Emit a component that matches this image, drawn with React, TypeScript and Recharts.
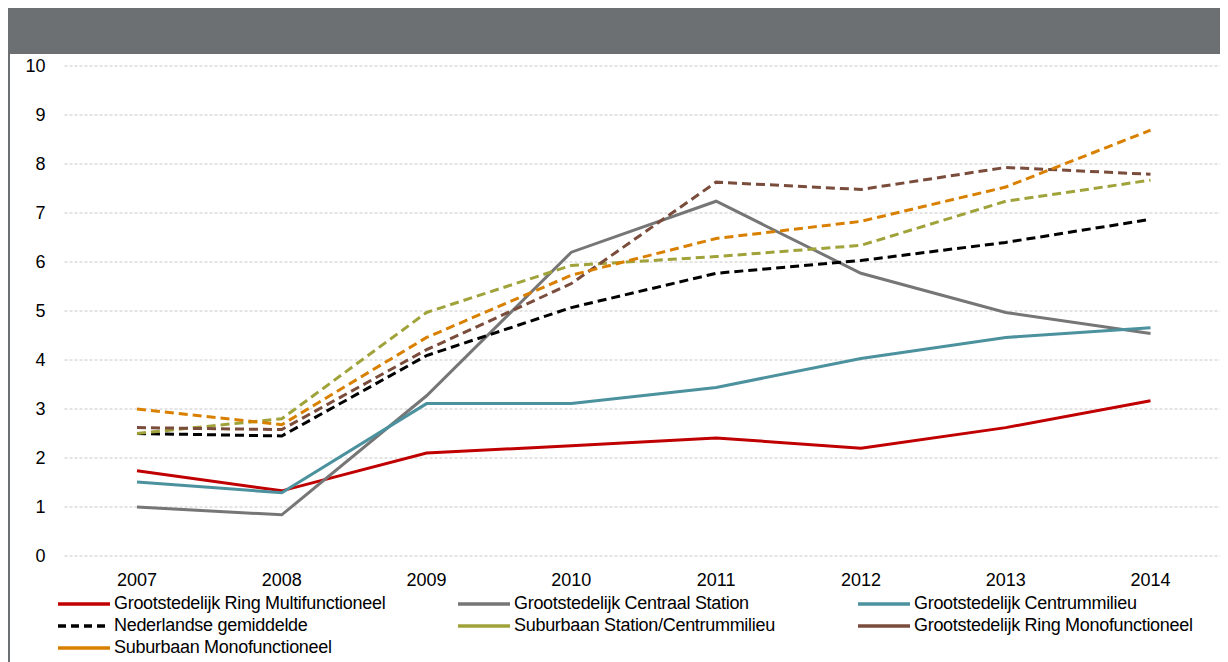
import { CartesianGrid, Legend, Line, LineChart, XAxis, YAxis } from "recharts";

const years = ["2007", "2008", "2009", "2010", "2011", "2012", "2013", "2014"];

const ringMulti = [1.74, 1.33, 2.1, 2.25, 2.41, 2.2, 2.62, 3.17];
const centraalStation = [1.0, 0.84, 3.27, 6.2, 7.24, 5.77, 4.97, 4.54];
const centrummilieu = [1.51, 1.29, 3.11, 3.11, 3.44, 4.03, 4.46, 4.66];
const nlGemiddelde = [2.5, 2.45, 4.09, 5.07, 5.77, 6.03, 6.4, 6.87];
const subStation = [2.5, 2.8, 4.97, 5.93, 6.11, 6.34, 7.24, 7.67];
const ringMono = [2.62, 2.58, 4.21, 5.56, 7.63, 7.48, 7.93, 7.79];
const subMono = [3.0, 2.68, 4.46, 5.73, 6.48, 6.83, 7.53, 8.69];

const yTicks = [0, 1, 2, 3, 4, 5, 6, 7, 8, 9, 10];

const series = [
  { key: "ringMulti", name: "Grootstedelijk Ring Multifunctioneel", color: "#c00000", dash: undefined, values: ringMulti },
  { key: "centraalStation", name: "Grootstedelijk Centraal Station", color: "#767676", dash: undefined, values: centraalStation },
  { key: "centrummilieu", name: "Grootstedelijk Centrummilieu", color: "#4b919e", dash: undefined, values: centrummilieu },
  { key: "nlGemiddelde", name: "Nederlandse gemiddelde", color: "#000000", dash: "9 5", values: nlGemiddelde },
  { key: "subStation", name: "Suburbaan Station/Centrummilieu", color: "#a0a23a", dash: "9 5", values: subStation },
  { key: "ringMono", name: "Grootstedelijk Ring Monofunctioneel", color: "#7a4c3b", dash: "9 5", values: ringMono },
  { key: "subMono", name: "Suburbaan Monofunctioneel", color: "#d98000", dash: "9 5", values: subMono },
];

const data = years.map((year, i) => {
  const row: Record<string, string | number> = { year };
  series.forEach((s) => {
    row[s.key] = s.values[i];
  });
  return row;
});

const font = "'Liberation Sans', Arial, sans-serif";

function ChartLegend() {
  return (
    <div
      style={{
        display: "grid",
        gridTemplateColumns: "400px 400px 400px",
        height: 66,
        paddingTop: 3,
        fontFamily: font,
        fontSize: 18,
        letterSpacing: -0.3,
        color: "#000",
        paddingLeft: 50,
      }}
    >
      {series.map((s) => (
        <div key={s.key} style={{ display: "flex", alignItems: "center", height: 21.5, whiteSpace: "nowrap" }}>
          <svg width={52} height={6} style={{ marginRight: 4 }}>
            <line
              x1={0}
              y1={3}
              x2={52}
              y2={3}
              stroke={s.color}
              strokeWidth={3.5}
              strokeDasharray={s.key === "nlGemiddelde" ? "8 5" : undefined}
            />
          </svg>
          <span>{s.name}</span>
        </div>
      ))}
    </div>
  );
}

export default function App() {
  return (
    <div style={{ position: "relative", width: 1220, height: 654, background: "#fff" }}>
      <div style={{ position: "absolute", left: 0, top: 0, width: 1220, height: 46, background: "#6d7073" }} />
      <div style={{ position: "absolute", left: 0, top: 46, width: 2, height: 608, background: "#6d7073" }} />
      <div style={{ position: "absolute", left: 0, top: 46 }}>
        <LineChart width={1220} height={608} data={data} margin={{ top: 12, right: 5, left: 0, bottom: 3 }}>
          <CartesianGrid vertical={false} stroke="#c8c8c8" strokeDasharray="3 2" />
          <XAxis
            dataKey="year"
            axisLine={false}
            tickLine={false}
            tickSize={0}
            tickMargin={17}
            height={34}
            padding={{ left: 72.5, right: 72.5 }}
            tick={{ fill: "#000", fontSize: 18, fontFamily: font }}
          />
          <YAxis
            domain={[0, 10]}
            ticks={yTicks}
            axisLine={false}
            tickLine={false}
            tickSize={0}
            tickMargin={19}
            width={56.5}
            tick={{ fill: "#000", fontSize: 18, fontFamily: font }}
          />
          {series.map((s) => (
            <Line
              key={s.key}
              type="linear"
              dataKey={s.key}
              name={s.name}
              stroke={s.color}
              strokeWidth={3}
              strokeDasharray={s.dash}
              dot={false}
              activeDot={false}
              isAnimationActive={false}
            />
          ))}
          <Legend verticalAlign="bottom" align="left" content={() => <ChartLegend />} />
        </LineChart>
      </div>
    </div>
  );
}
